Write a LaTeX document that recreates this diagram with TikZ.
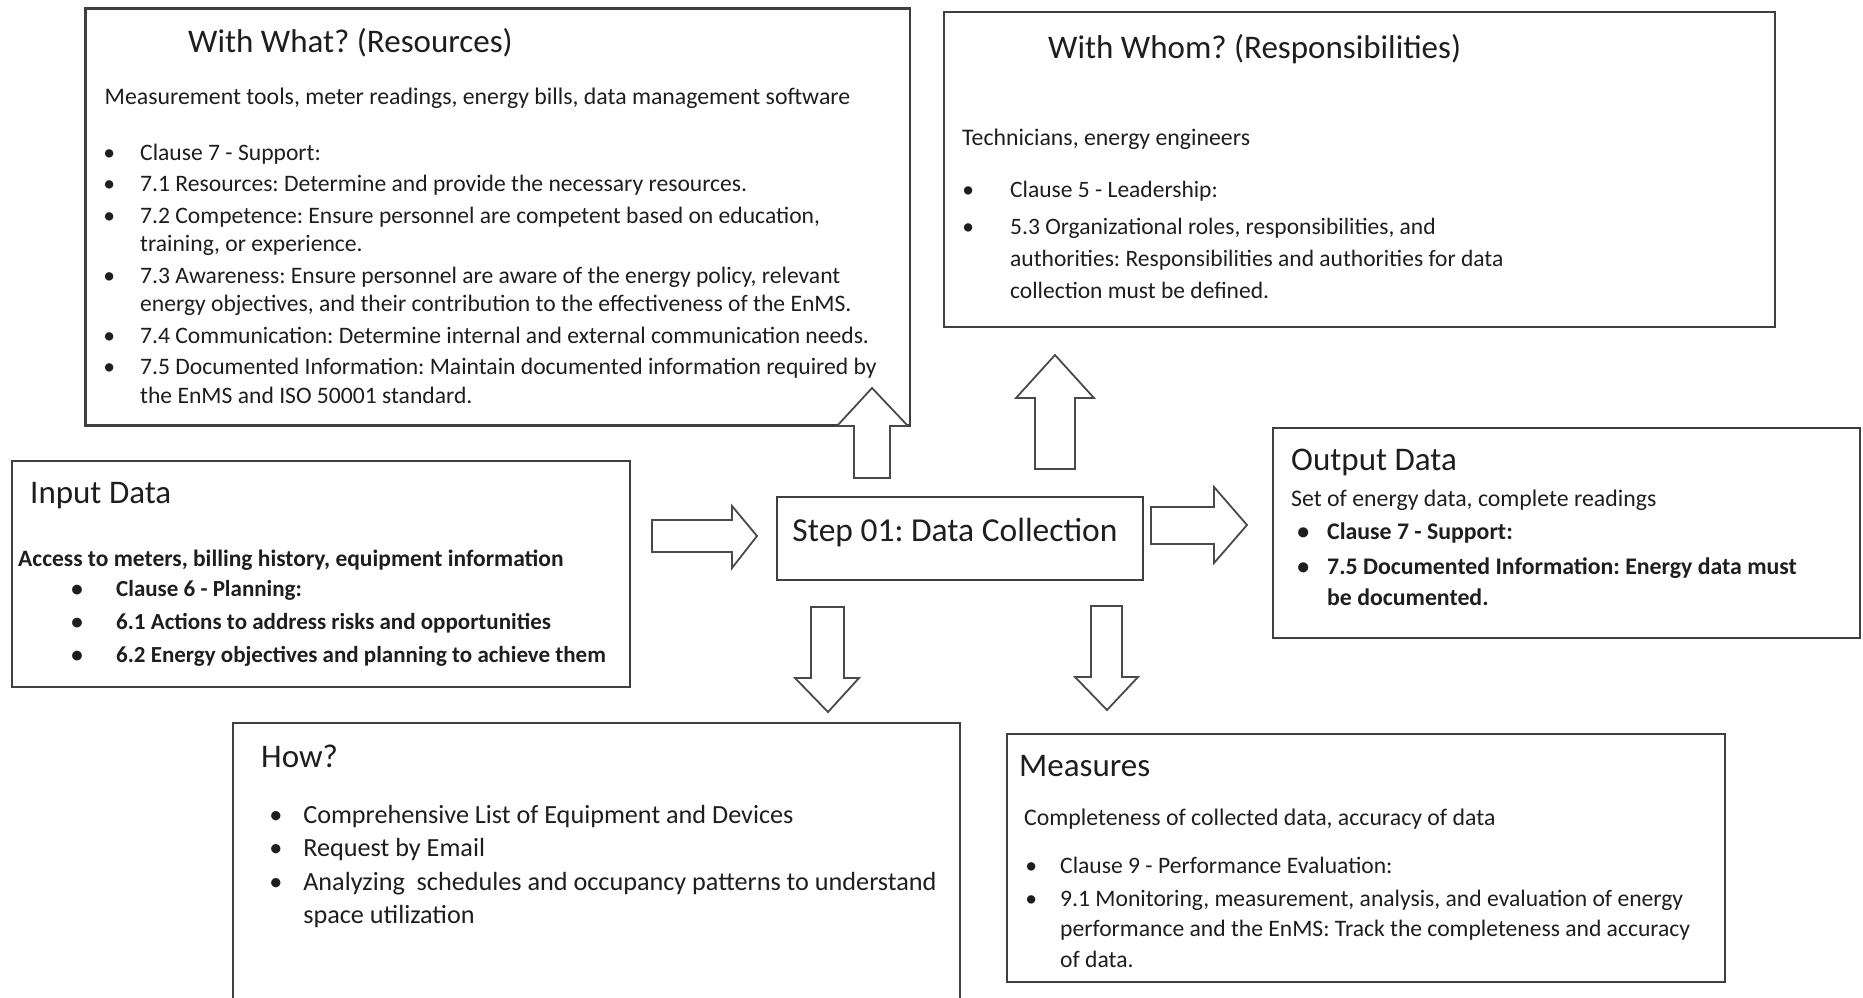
\documentclass[tikz,border=0pt]{standalone}
\usepackage{fontspec}
\setmainfont{Carlito}
\frenchspacing
\definecolor{frame}{HTML}{3F3F3F}
\definecolor{arrowline}{HTML}{4A4A4A}
\definecolor{ink}{HTML}{1E1E1E}
\newlength\bulletindent
% one bullet paragraph with a hanging indent
\newcommand\bitem[1]{\par\noindent\hangindent=\bulletindent\hangafter=1%
  \makebox[\bulletindent][l]{\makebox[0pt][c]{\textbullet}}#1}
% {size}{baselineskip}{parskip}{indent}{items}
\newcommand\blist[5]{\begin{minipage}[t]{900pt}\raggedright\frenchspacing
  \fontsize{#1}{#2}\selectfont\setlength\parskip{#3}\setlength\bulletindent{#4}#5\end{minipage}}
\begin{document}
\begin{tikzpicture}[x=1pt,y=-1pt,
  panel/.style={draw=frame,line width=2.2pt,fill=white,inner sep=0pt,outer sep=0pt,anchor=north west},
  heading/.style={font=\fontsize{33}{39}\selectfont,text=ink,inner sep=0pt,anchor=base west},
  body/.style={font=\fontsize{23.8}{28}\selectfont,text=ink,inner sep=0pt,anchor=base west},
  listtext/.style={text=ink,inner sep=0pt,anchor=base west},
  blockarrow/.style={draw=arrowline,line width=1.8pt,fill=white,line join=miter}]
\clip (0,0) rectangle (1863,997);
\fill[white] (0,0) rectangle (1863,997);

% ---- panels ----
\node[panel,minimum width=824.5pt,minimum height=417pt] (what) at (85.5,8.5) {};
\node[panel,minimum width=831pt,minimum height=315pt] (whom) at (944,12) {};
\node[panel,minimum width=618pt,minimum height=226pt] (input) at (12,461) {};
\node[panel,minimum width=366pt,minimum height=83pt] (step) at (777,497) {};
\node[panel,minimum width=587pt,minimum height=210pt] (output) at (1273,428) {};
\node[panel,minimum width=727pt,minimum height=297pt] (how) at (233,723) {};
\node[panel,minimum width=718pt,minimum height=248pt] (measures) at (1007,734) {};

% ---- With What? ----
\node[heading] (whatT) at (188,52) {With What? (Resources)};
\node[body] (whatS) at (104.5,104.5) {Measurement tools, meter readings, energy bills, data management software};
\node[listtext] (whatL) at (109,160) {\blist{23.6}{28.5}{3pt}{31pt}{%
  \bitem{Clause 7 - Support:}
  \bitem{7.1 Resources: Determine and provide the necessary resources.}
  \bitem{7.2 Competence: Ensure personnel are competent based on education,\newline training, or experience.}
  \bitem{7.3 Awareness: Ensure personnel are aware of the energy policy, relevant\newline energy objectives, and their contribution to the effectiveness of the EnMS.}
  \bitem{7.4 Communication: Determine internal and external communication needs.}
  \bitem{7.5 Documented Information: Maintain documented information required by\newline the EnMS and ISO 50001 standard.}}};

% ---- With Whom? ----
\node[heading] (whomT) at (1048,58) {With Whom? (Responsibilities)};
\node[body] (whomS) at (962,145) {Technicians, energy engineers};
\node[listtext] (whomL) at (968,197) {\blist{23.5}{32}{5pt}{42pt}{%
  \bitem{Clause 5 - Leadership:}
  \bitem{5.3 Organizational roles, responsibilities, and\newline authorities: Responsibilities and authorities for data\newline collection must be defined.}}};

% ---- Input Data ----
\node[heading] (inT) at (30,503.5) {Input Data};
\node[body,font=\fontsize{23.5}{28}\selectfont\bfseries] (inS) at (18,566.5) {Access to meters, billing history, equipment information};
\node[listtext] (inL) at (77,596) {\blist{23}{33}{0pt}{39pt}{\bfseries
  \bitem{Clause 6 - Planning:}
  \bitem{6.1 Actions to address risks and opportunities}
  \bitem{6.2 Energy objectives and planning to achieve them}}};

% ---- Step ----
\node[heading,font=\fontsize{33.5}{39}\selectfont,anchor=base] (stepT) at (955,541.5) {Step 01: Data Collection};

% ---- Output Data ----
\node[heading] (outT) at (1291,470) {Output Data};
\node[body] (outS) at (1291,506) {Set of energy data, complete readings};
\node[listtext] (outL) at (1303,539) {\blist{23.8}{31}{4pt}{24pt}{\bfseries
  \bitem{Clause 7 - Support:}
  \bitem{7.5 Documented Information: Energy data must\newline be documented.}}};

% ---- How? ----
\node[heading] (howT) at (261,767) {How?};
\node[listtext] (howL) at (275.6,823) {\blist{26.2}{33.5}{0pt}{27.5pt}{%
  \bitem{Comprehensive List of Equipment and Devices}
  \bitem{Request by Email}
  \bitem{Analyzing\ \ schedules and occupancy patterns to understand\newline space utilization}}};

% ---- Measures ----
\node[heading] (measT) at (1019,776.5) {Measures};
\node[body] (measS) at (1024,825.5) {Completeness of collected data, accuracy of data};
\node[listtext] (measL) at (1031,873) {\blist{23.6}{30.5}{2.5pt}{29pt}{%
  \bitem{Clause 9 - Performance Evaluation:}
  \bitem{9.1 Monitoring, measurement, analysis, and evaluation of energy\newline performance and the EnMS: Track the completeness and accuracy\newline of data.}}};

% ---- block arrows ----
% up, into the resources panel
\draw[blockarrow] (854,478) -- (854,426) -- (837,426) -- (872,388) -- (908,426) -- (890,426) -- (890,478) -- cycle;
% up, towards the responsibilities panel
\draw[blockarrow] (1035,469) -- (1035,398) -- (1016,398) -- (1055,355) -- (1094,398) -- (1075,398) -- (1075,469) -- cycle;
% right, from the input panel into the step
\draw[blockarrow] (652,520) -- (732,520) -- (732,506) -- (757,536) -- (732,568) -- (732,552) -- (652,552) -- cycle;
% right, from the step to the output panel
\draw[blockarrow] (1151,507) -- (1214,507) -- (1214,487) -- (1247,525) -- (1214,563) -- (1214,544) -- (1151,544) -- cycle;
% down, to How?
\draw[blockarrow] (811,607) -- (811,678) -- (795,678) -- (828,712) -- (859,678) -- (844,678) -- (844,607) -- cycle;
% down, to Measures
\draw[blockarrow] (1091,606) -- (1091,677) -- (1075,677) -- (1107,710) -- (1138,677) -- (1122,677) -- (1122,606) -- cycle;
\end{tikzpicture}
\end{document}
